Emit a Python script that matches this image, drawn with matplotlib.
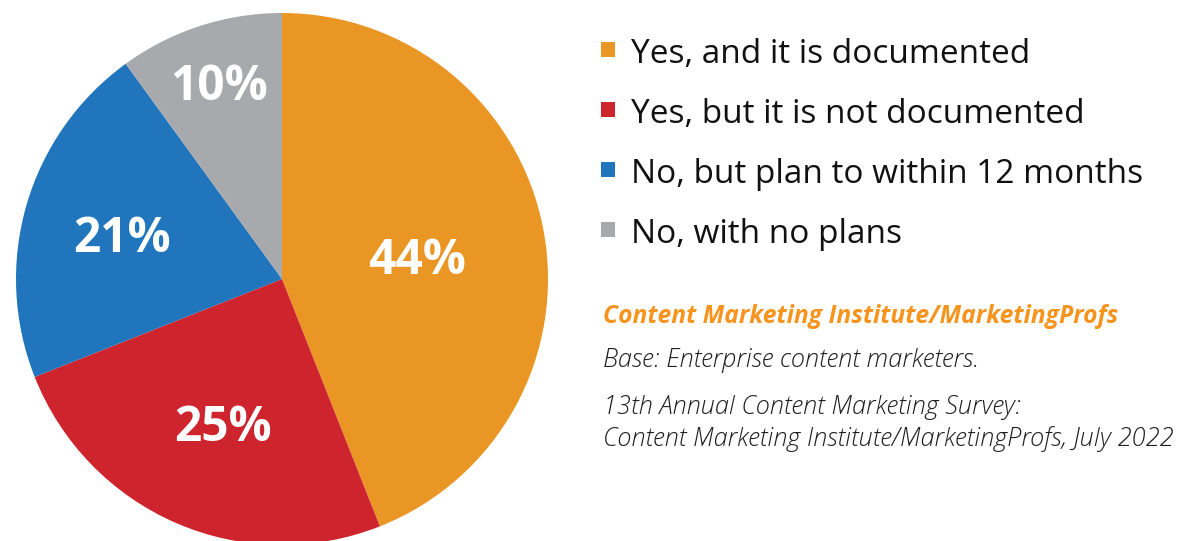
import matplotlib
matplotlib.use("Agg")
import matplotlib.pyplot as plt
import numpy as np

categories = [
    "Yes, and it is documented",
    "Yes, but it is not documented",
    "No, but plan to within 12 months",
    "No, with no plans",
]
shares = [44, 25, 21, 10]
colors = ["#E99625", "#CE242E", "#2075BC", "#A8A9AC"]

source_title = "Content Marketing Institute/MarketingProfs"
notes = [
    "Base: Enterprise content marketers.",
    "13th Annual Content Marketing Survey:",
    "Content Marketing Institute/MarketingProfs, July 2022",
]

FONT = "Open Sans"
W, H = 1183, 541
fig = plt.figure(figsize=(W / 100, H / 100), dpi=100)
ax = fig.add_axes([0, 0, 1, 1])

cx, cy, r = 282, H - 279, 266
wedges, _ = ax.pie(shares, colors=colors, startangle=90, counterclock=False,
                   radius=r, center=(cx, cy),
                   wedgeprops=dict(linewidth=0))
ax.set_xlim(0, W)
ax.set_ylim(0, H)
ax.set_aspect("equal")
ax.axis("off")

# percentage labels, placed along each wedge's mid-angle
label_dist = [0.51, 0.58, 0.635, 0.79]
total = sum(shares)
start = 90.0
for val, d in zip(shares, label_dist):
    sweep = 360.0 * val / total
    mid = np.deg2rad(start - sweep / 2)
    ax.text(cx + d * r * np.cos(mid) + 2, cy + d * r * np.sin(mid) - 2, f"{val}%",
            ha="center", va="center_baseline", color="white", fontsize=34.5,
            fontweight="bold", family=FONT)
    start -= sweep

# legend rows
for i, (lab, col) in enumerate(zip(categories, colors)):
    base = 63 + 60 * i
    ax.add_patch(plt.Rectangle((601, H - base + 6), 14, 15, color=col, lw=0))
    ax.text(631, H - base, lab, ha="left", va="baseline", fontsize=24,
            color="#111111", family=FONT)

ax.text(603, H - 323, source_title, ha="left", va="baseline", fontsize=17.7,
        color="#F7941D", fontweight="bold", style="italic", family=FONT)
for txt, base in zip(notes, [367, 414, 446]):
    ax.text(603, H - base, txt, ha="left", va="baseline", fontsize=18.3,
            color="#1E1E1E", style="italic", fontweight="light", family=FONT)

fig.savefig("out.png", dpi=100)
